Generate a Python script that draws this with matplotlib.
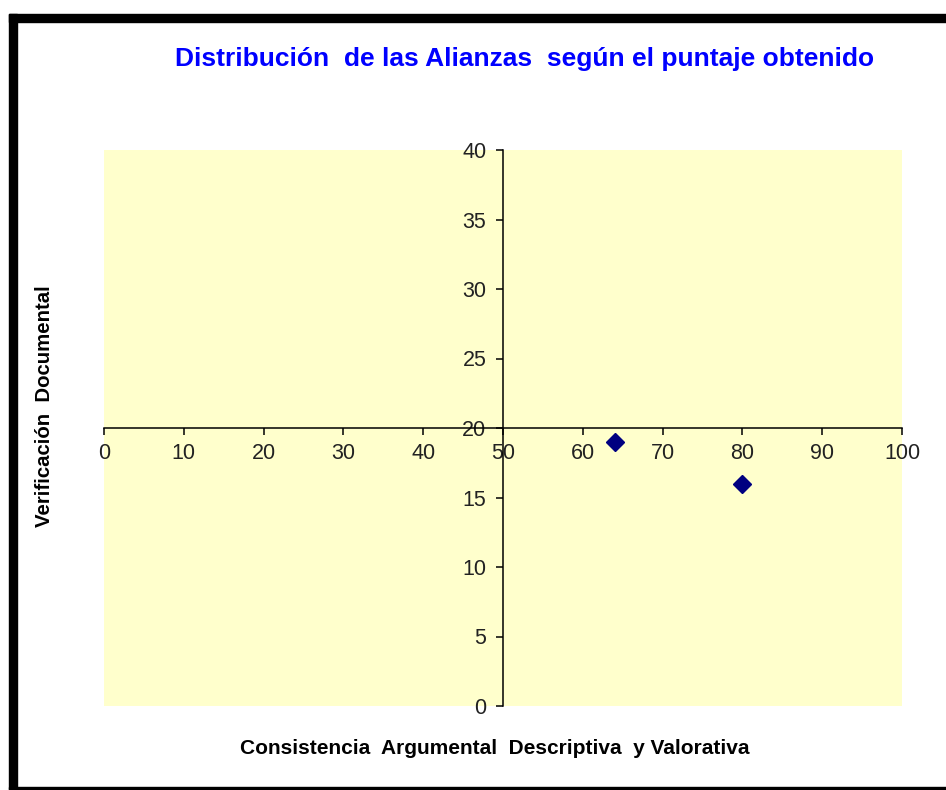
import matplotlib.pyplot as plt
from matplotlib.patches import Rectangle

# Puntajes de las alianzas
consistencia = [64, 80]
verificacion = [19, 16]

x_ticks = list(range(0, 101, 10))
y_ticks = list(range(0, 41, 5))

TITLE = "Distribución  de las Alianzas  según el puntaje obtenido"
X_LABEL = "Consistencia  Argumental  Descriptiva  y Valorativa"
Y_LABEL = "Verificación  Documental"


def main():
    plt.rcParams['font.family'] = ['Liberation Sans', 'DejaVu Sans']

    fig = plt.figure(figsize=(9.46, 7.9), dpi=100)
    fig.patch.set_facecolor("white")

    # Marco negro al estilo de la hoja de calculo
    fig.patches.append(Rectangle((8.5 / 946, 1 - 22 / 790), 1, 8.5 / 790,
                                 transform=fig.transFigure, color="black"))
    fig.patches.append(Rectangle((8.5 / 946, 0), 8.5 / 946, 1 - 14 / 790,
                                 transform=fig.transFigure, color="black"))
    fig.patches.append(Rectangle((8.5 / 946, 1 - 789 / 790), 1, 2 / 790,
                                 transform=fig.transFigure, color="black"))

    ax = fig.add_axes([104 / 946, 1 - 706 / 790, 798 / 946, 556 / 790])
    ax.set_facecolor("#FFFFCC")

    ax.plot(consistencia, verificacion, linestyle="none", marker="D",
            markersize=9, color="#000080")

    ax.set_xlim(0, 100)
    ax.set_ylim(0, 40)
    ax.set_xticks(x_ticks)
    ax.set_yticks(y_ticks)

    # Ejes cruzados en (50, 20)
    ax.spines["left"].set_position(("data", 50))
    ax.spines["bottom"].set_position(("data", 20))
    ax.spines["right"].set_visible(False)
    ax.spines["top"].set_visible(False)
    for side in ["left", "bottom"]:
        ax.spines[side].set_linewidth(1.1)

    ax.tick_params(direction="out", length=5, width=1.1, labelsize=15.5,
                   labelcolor="#222222")
    ax.tick_params(axis="x", pad=6)
    ax.tick_params(axis="y", pad=7)

    fig.text(525 / 946, 1 - 59 / 790, TITLE, ha="center", va="center",
             fontsize=19, fontweight="bold", color="#0000FF")
    fig.text(495 / 946, 1 - 748 / 790, X_LABEL, ha="center", va="center",
             fontsize=15, fontweight="bold", color="black")
    fig.text(45 / 946, 1 - 406 / 790, Y_LABEL, ha="center", va="center",
             rotation=90, fontsize=14.7, fontweight="bold", color="black")

    fig.savefig("out.png", dpi=100)


if __name__ == "__main__":
    main()
